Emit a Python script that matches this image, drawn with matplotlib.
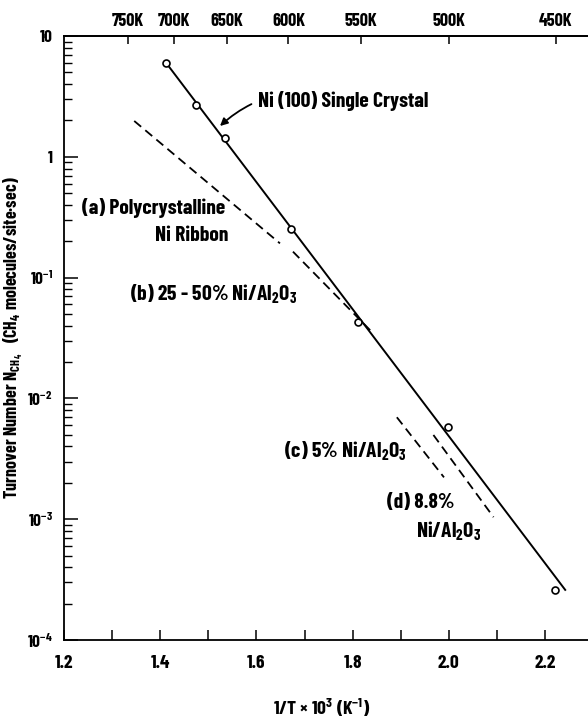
import numpy as np
import matplotlib
matplotlib.use("Agg")
import matplotlib.pyplot as plt
from matplotlib.ticker import FixedLocator, NullFormatter, LogLocator

plt.rcParams['font.family'] = ['Barlow Condensed', 'Roboto Condensed', 'DejaVu Sans']
plt.rcParams['font.weight'] = 'bold'
plt.rcParams['axes.labelweight'] = 'bold'
plt.rcParams['mathtext.default'] = 'regular'

# Ni(100) single crystal, turnover number vs 1000/T
x_ni100 = [1.413, 1.474, 1.535, 1.671, 1.812, 1.999, 2.221]
y_ni100 = [5.94, 2.68, 1.43, 0.251, 0.0427, 0.00583, 2.6e-4]
# straight fit through the single crystal data
x_fit = [1.413, 2.242]
y_fit = [5.94, 2.6e-4]

# supported / polycrystalline catalysts (dashed segments)
x_a = [1.346, 1.649]
y_a = [1.98, 0.192]
x_b = [1.676, 1.840]
y_b = [0.164, 0.0355]
x_c = [1.892, 1.990]
y_c = [6.98e-3, 2.22e-3]
x_d = [1.968, 2.093]
y_d = [4.98e-3, 1.04e-3]

# temperature scale on top
temps_K = [750, 700, 650, 600, 550, 500, 450]
temp_pos = [1000.0 / t for t in temps_K]

y_ticks = [1e-4, 1e-3, 1e-2, 1e-1, 1, 10]
y_labels = ['10$^{-4}$', '10$^{-3}$', '10$^{-2}$', '10$^{-1}$', '1', '10']

fig = plt.figure(figsize=(5.88, 7.26), dpi=100)
ax = fig.add_axes([64 / 588, 1 - 640 / 726, 1 - 64 / 588, 604 / 726])

ax.semilogy(x_fit, y_fit, color='black', lw=1.4)
ax.plot(x_ni100, y_ni100, 'o', mfc='white', mec='black', ms=5, mew=1.2)
for xs, ys in [(x_a, y_a), (x_b, y_b), (x_c, y_c), (x_d, y_d)]:
    ax.plot(xs, ys, color='black', lw=1.3, ls=(0, (5, 3)))

ax.set_xlim(1.2, 1.2 + 524 / 481)
ax.set_ylim(1e-4, 10)

ax.spines['right'].set_visible(False)
for s in ['left', 'bottom', 'top']:
    ax.spines[s].set_linewidth(1.3)

# bottom axis
ax.set_xticks([1.2, 1.4, 1.6, 1.8, 2.0, 2.2])
ax.set_xticklabels(['1.2', '1.4', '1.6', '1.8', '2.0', '2.2'])
ax.xaxis.set_minor_locator(FixedLocator([1.3, 1.5, 1.7, 1.9, 2.1]))
ax.tick_params(axis='x', which='both', direction='in', length=7, width=1.1,
               pad=11, labelsize=14, top=False)

# left axis
ax.yaxis.set_major_locator(FixedLocator(y_ticks))
ax.set_yticklabels(y_labels)
ax.yaxis.set_minor_locator(LogLocator(base=10, subs=np.arange(2, 10)))
ax.yaxis.set_minor_formatter(NullFormatter())
ax.tick_params(axis='y', which='major', direction='in', length=10, width=1.1,
               pad=8, labelsize=12.5)
ax.tick_params(axis='y', which='minor', direction='in', length=6, width=1.0)

# top axis in kelvin
top = ax.secondary_xaxis('top')
top.set_xticks(temp_pos)
top.set_xticklabels([f'{t}K' for t in temps_K])
top.tick_params(direction='in', length=6, width=1.1, pad=4, labelsize=13)
top.spines['top'].set_linewidth(1.3)

ax.set_ylabel('Turnover Number N$_{CH_4}$   (CH$_4$ molecules/site·sec)',
              fontsize=13)
ax.yaxis.set_label_coords(-39 / 524, 0.5)
fig.text(322 / 588, 1 - 708 / 726, '1/T × 10$^{3}$ (K$^{-1}$)',
         ha='center', va='center', fontsize=14)

# curve labels
tf = dict(fontsize=15.5, va='center', ha='left')
ax.annotate('Ni (100) Single Crystal', xy=(220 / 588, 1 - 126 / 726),
            xycoords='figure fraction', xytext=(258 / 588, 1 - 101 / 726),
            textcoords='figure fraction', **tf,
            arrowprops=dict(arrowstyle='-|>', color='black', lw=1.3,
                            mutation_scale=11,
                            connectionstyle='arc3,rad=0.3',
                            shrinkA=3, shrinkB=0))
fig.text(82 / 588, 1 - 208 / 726, '(a) Polycrystalline', **tf)
fig.text(228 / 588, 1 - 236 / 726, 'Ni Ribbon', fontsize=15.5,
         va='center', ha='right')
fig.text(130 / 588, 1 - 294 / 726, '(b) 25 - 50% Ni/Al$_2$O$_3$', **tf)
fig.text(284 / 588, 1 - 451 / 726, '(c) 5% Ni/Al$_2$O$_3$', **tf)
fig.text(387 / 588, 1 - 502 / 726, '(d) 8.8%', **tf)
fig.text(416 / 588, 1 - 531 / 726, 'Ni/Al$_2$O$_3$', **tf)

fig.savefig('out.png', dpi=100)
